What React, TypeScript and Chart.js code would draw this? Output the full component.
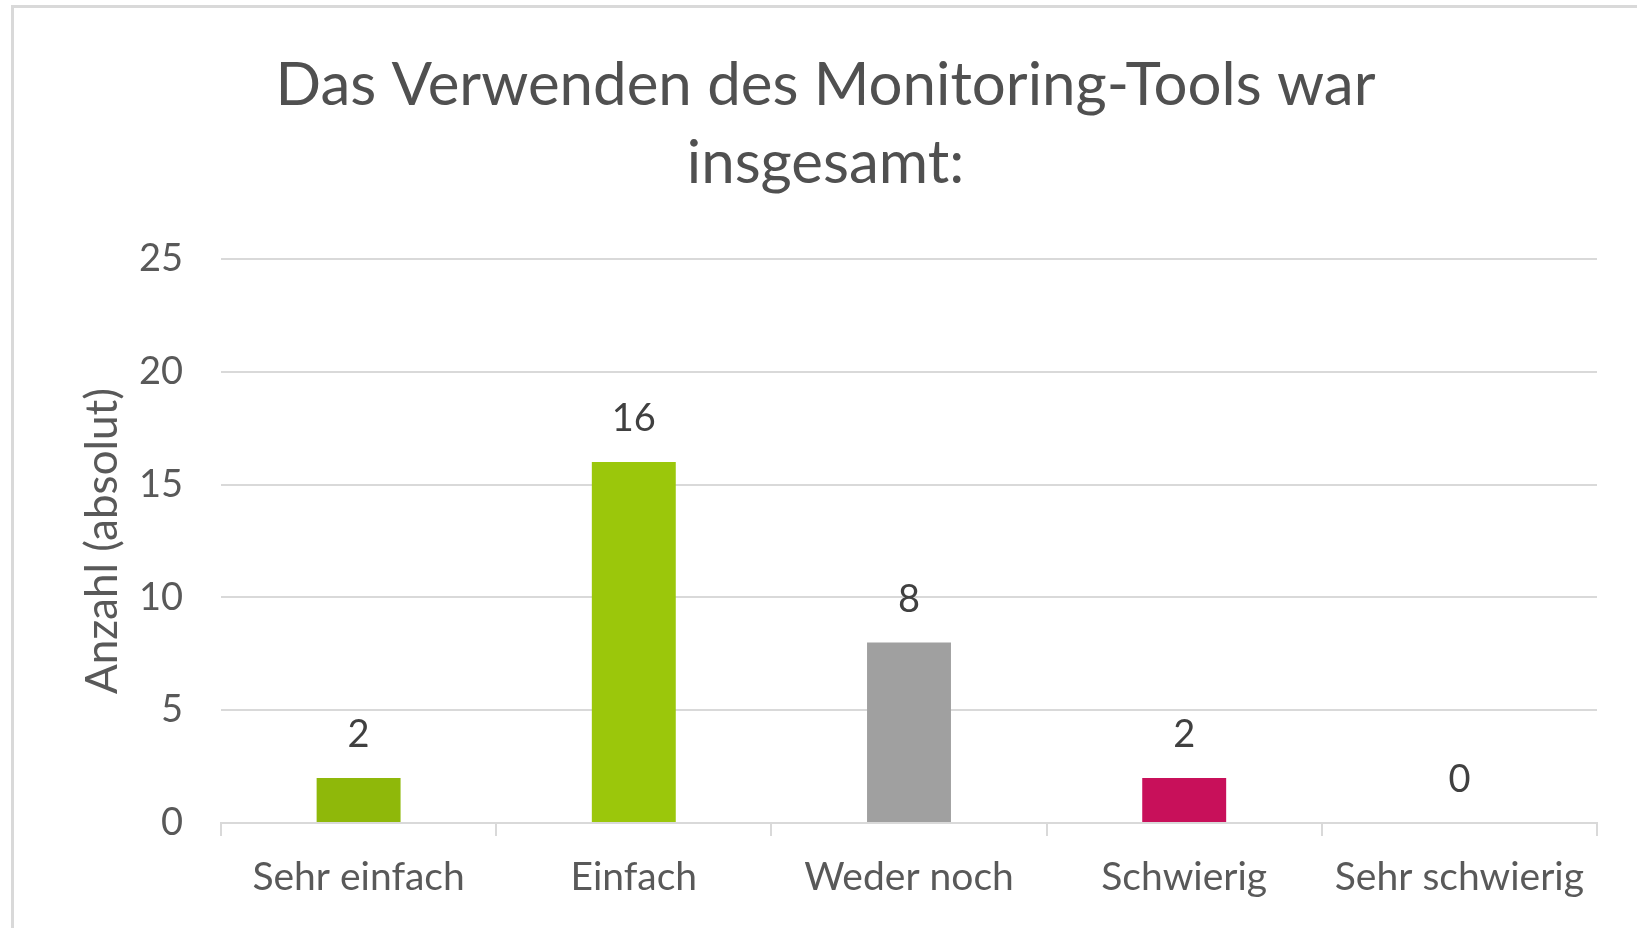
import React, { useEffect, useRef } from 'react';
import { Chart, registerables } from 'chart.js';

Chart.register(...registerables);

const categories = ['Sehr einfach', 'Einfach', 'Weder noch', 'Schwierig', 'Sehr schwierig'];
const counts = [2, 16, 8, 2, 0];
const barColors = ['#8fb80a', '#9bc70b', '#a0a0a0', '#c8105a', '#c8105a'];
const yMin = 0;
const yMax = 25;
const yStep = 5;
const titleLines = ['Das Verwenden des Monitoring-Tools war', 'insgesamt:'];
const yAxisTitle = 'Anzahl (absolut)';

const FONT = 'Lato';
const CANVAS_W = 1632;
const CANVAS_H = 950;

const valueLabels = {
  id: 'valueLabels',
  afterDatasetsDraw(chart: any) {
    const ctx = chart.ctx;
    const meta = chart.getDatasetMeta(0);
    const data = chart.data.datasets[0].data;
    ctx.save();
    ctx.font = `38px ${FONT}`;
    ctx.fillStyle = '#404040';
    ctx.textAlign = 'center';
    ctx.textBaseline = 'middle';
    meta.data.forEach((el: any, i: number) => {
      ctx.fillText(String(data[i]), el.x, el.y - 43);
    });
    ctx.restore();
  },
};

export default function App() {
  const ref = useRef<HTMLCanvasElement | null>(null);

  useEffect(() => {
    let chart: Chart | null = null;
    let cancelled = false;
    const make = () => {
      if (cancelled || !ref.current) return;
      chart = new Chart(ref.current, {
        type: 'bar',
        data: {
          labels: categories,
          datasets: [
            {
              data: counts,
              backgroundColor: barColors,
              borderWidth: 0,
              barPercentage: 0.305,
              categoryPercentage: 1,
            },
          ],
        },
        options: {
          animation: false,
          responsive: false,
          devicePixelRatio: 1,
          layout: { padding: { left: 40, right: 49, top: 0, bottom: 35 } },
          plugins: {
            legend: { display: false },
            tooltip: { enabled: false },
            title: {
              display: true,
              text: titleLines,
              color: '#505050',
              font: { family: FONT, size: 60, weight: 'normal', lineHeight: 78 / 60 },
              padding: { top: 39, bottom: 56 },
            },
          },
          scales: {
            x: {
              grid: {
                display: true,
                drawOnChartArea: false,
                drawTicks: true,
                tickLength: 13,
                color: '#d9d9d9',
                lineWidth: 2,
                offset: true,
              },
              border: { display: true, color: '#d9d9d9', width: 2 },
              ticks: {
                color: '#595959',
                font: { family: FONT, size: 39 },
                padding: 18,
                maxRotation: 0,
                autoSkip: false,
              },
              afterFit: (s: any) => {
                s.height = 100;
              },
            },
            y: {
              min: yMin,
              max: yMax,
              grid: { color: '#d9d9d9', lineWidth: 2, drawTicks: false },
              border: { display: false },
              ticks: {
                stepSize: yStep,
                color: '#595959',
                font: { family: FONT, size: 38 },
                padding: 38,
              },
              title: {
                display: true,
                text: yAxisTitle,
                color: '#595959',
                font: { family: FONT, size: 44 },
                padding: { top: 22, bottom: 0 },
              },
              afterFit: (s: any) => {
                s.width = 167;
              },
            },
          },
        },
        plugins: [valueLabels],
      });
    };
    const fontsApi = (document as any).fonts;
    if (fontsApi && fontsApi.load) {
      Promise.all([
        fontsApi.load(`38px ${FONT}`),
        fontsApi.load(`60px ${FONT}`),
      ]).then(make, make);
    } else {
      make();
    }
    return () => {
      cancelled = true;
      if (chart) chart.destroy();
    };
  }, []);

  return (
    <div
      style={{
        position: 'fixed',
        left: 0,
        top: 0,
        width: 1637,
        height: 928,
        overflow: 'hidden',
        background: '#ffffff',
      }}
    >
      <div
        style={{
          position: 'absolute',
          left: 11,
          top: 5,
          width: CANVAS_W,
          height: CANVAS_H,
          border: '3px solid #d9d9d9',
          background: '#ffffff',
        }}
      >
        <canvas
          ref={ref}
          width={CANVAS_W}
          height={CANVAS_H}
          style={{ display: 'block', width: CANVAS_W, height: CANVAS_H }}
        />
      </div>
    </div>
  );
}
